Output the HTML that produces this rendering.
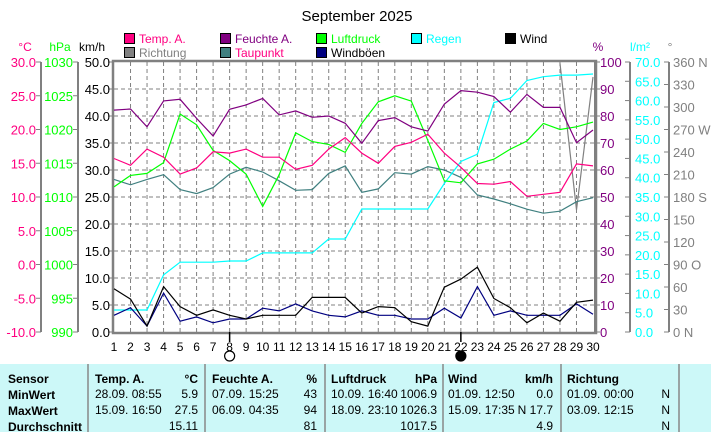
<!DOCTYPE html>
<html><head><meta charset="utf-8"><style>
body{margin:0;background:#fff;width:711px;height:432px;overflow:hidden;font-family:"Liberation Sans",sans-serif}
svg{display:block}
text{font-family:"Liberation Sans",sans-serif}
</style></head><body>
<svg id="c" width="711" height="432" viewBox="0 0 711 432">
<text x="357" y="21" font-size="15" text-anchor="middle">September 2025</text>
<g id="legend"></g>
<g id="axes"></g>
<g id="series"></g>
<g id="table"></g>
</svg>
<script>
const days=[1,2,3,4,5,6,7,8,9,10,11,12,13,14,15,16,17,18,19,20,21,22,23,24,25,26,27,28,29,30];
const tempA=[15.7,14.7,17.1,15.9,13.4,14.3,16.7,16.5,17.1,15.9,15.9,14.1,14.7,17.1,18.8,16.5,15.0,17.5,18.1,19.3,16.5,14.4,12.0,11.9,12.3,10.1,10.4,10.7,14.9,14.6];
const feuchte=[82.2,82.6,76.0,85.6,86.2,79.1,72.6,82.5,84.1,86.5,80.4,81.9,79.5,80.0,77.3,69.9,78.3,79.4,76.0,74.4,84.4,89.4,88.8,87.2,81.4,88.0,83.2,83.2,70.1,74.8];
const luftdruck=[1011.5,1013.2,1013.5,1015.1,1022.3,1020.7,1016.9,1015.4,1013.4,1008.6,1013.3,1019.5,1018.2,1017.8,1016.6,1020.9,1024.1,1025.0,1024.2,1018.4,1012.4,1012.1,1014.9,1015.6,1017.1,1018.3,1020.9,1020.0,1020.4,1021.1];
const taupunkt=[12.6,11.8,12.6,13.3,11.1,10.5,11.4,13.4,14.4,13.7,12.4,11.0,11.1,13.5,14.6,10.7,11.2,13.6,13.4,14.5,14.0,12.9,10.3,9.7,9.0,8.2,7.6,7.9,9.3,9.9];
const regen=[5.7,5.7,5.7,14.8,18.1,18.1,18.1,18.4,18.4,20.5,20.5,20.5,20.5,24.1,24.1,31.9,31.9,31.9,31.9,31.9,38.5,44.2,46.1,59.5,60.6,65.2,66.2,66.6,66.6,66.9];
const wind=[8.0,6.1,1.1,8.4,4.7,3.1,4.1,3.1,2.4,3.1,3.1,3.1,6.4,6.4,6.4,3.5,4.7,4.5,1.9,1.1,8.3,9.8,12.0,6.2,4.5,1.7,3.5,2.0,5.5,5.9];
const windboeen=[3.1,4.5,1.1,7.2,2.0,2.8,1.7,2.4,2.4,4.4,3.9,5.2,3.9,3.1,2.8,3.9,3.1,3.1,2.4,2.4,4.4,2.6,8.4,3.1,3.9,3.1,3.1,3.1,5.2,3.3];
const richtung=[null,null,null,null,null,null,null,null,null,null,null,null,null,null,null,null,null,null,null,null,null,null,null,null,null,null,null,358,163,340];
const tickC=[30,25,20,15,10,5,0,-5,-10];
const tickHpa=[1030,1025,1020,1015,1010,1005,1000,995,990];
const tickKmh=[50,45,40,35,30,25,20,15,10,5,0];
const tickPct=[100,90,80,70,60,50,40,30,20,10,0];
const tickRain=[70,65,60,55,50,45,40,35,30,25,20,15,10,5,0];
const tickDir=["360 N","330","300","270 W","240","210","180 S","150","120","90 O","60","30","0 N"];

const NS="http://www.w3.org/2000/svg";
const X0=114,X1=593,Y0=62,Y1=332,H=Y1-Y0;
const xS=d=>X0+(d-1)*(X1-X0)/29;
const yKmh=v=>Y1-v/50*H, yC=t=>Y1-(t+10)/40*H, yHpa=p=>Y1-(p-990)/40*H, yPct=h=>Y1-h/100*H, yRain=r=>Y1-r/70*H, yDir=d=>Y1-d/360*H;
function el(tag,attrs,parent,txt){const e=document.createElementNS(NS,tag);for(const k in attrs)e.setAttribute(k,attrs[k]);if(txt!==undefined)e.textContent=txt;parent.appendChild(e);return e;}
const ax=document.getElementById('axes'),sr=document.getElementById('series'),lg=document.getElementById('legend'),tb=document.getElementById('table');

// grid
for(let i=1;i<10;i++){const y=Y0+i*H/10;const g=el('line',{x1:X0,x2:X1+2,y1:y,y2:y,stroke:'#808080','stroke-dasharray':'4,3'},ax);}
days.forEach(d=>{if(d>1&&d<30){const x=xS(d);const g=el('line',{x1:x,x2:x,y1:Y0,y2:Y1,stroke:'#808080','stroke-dasharray':'4,3'},ax);}});
const fr=el('rect',{x:X0-1,y:Y0-1,width:X1-X0+4,height:H+2,fill:'none',stroke:'#808080','stroke-width':2.5},ax);


function axis(ticks,lineX,labelX,anchor,color,tickDir,name){
  const l=el('line',{x1:lineX,x2:lineX,y1:Y0,y2:Y1,stroke:'#808080','stroke-width':2},ax);
  
  ticks.forEach((t,i)=>{const y=Y0+i*H/(ticks.length-1);
    el('line',{x1:lineX,x2:lineX+tickDir*5,y1:y,y2:y,stroke:'#808080','stroke-width':1},ax);
    const tx=el('text',{x:labelX,y:y+5,'font-size':13,fill:color,'text-anchor':anchor},ax,typeof t==='number'?(name==='hpa'||name==='pct'?String(t):t.toFixed(1)):t);
    });
}
axis(tickC,41,36,'end','#ff0080',-1,'temp');
axis(tickHpa,78,73,'end','#00ff00',-1,'hpa');
axis(tickKmh,X0-1,110,'end','#000',-1,'kmh');
axis(tickPct,X1+2,600,'start','#800080',1,'pct');
axis(tickRain,630,635,'start','#00ffff',-1,'rain');
axis(tickDir,669,673,'start','#808080',-1,'dir');
[['°C',25,'#ff0080','unit-celsius'],['hPa',60,'#00ff00','unit-hpa'],['km/h',92,'#000','unit-kmh'],['%',598,'#800080','unit-percent'],['l/m²',640,'#00ffff','unit-rain'],['°',670,'#808080','unit-degree']].forEach(u=>{
  const t=el('text',{x:u[1],y:51,'font-size':12,fill:u[2],'text-anchor':'middle'},ax,u[0]);});
days.forEach(d=>{const t=el('text',{x:xS(d),y:351,'font-size':12,'text-anchor':'middle'},ax,String(d));});
// moon markers
[[8,false],[22,true]].forEach(m=>{const x=xS(m[0]);el('line',{x1:x,x2:x,y1:Y1,y2:Y1+10,stroke:'#000','stroke-width':1.5},ax);
  const c=el('circle',{cx:x,cy:356,r:5,fill:m[1]?'#000':'#fff',stroke:'#000','stroke-width':1.2},ax);});

function line(vals,yf,color,name){let pts=[];let segs=[];vals.forEach((v,i)=>{if(v===null){if(pts.length)segs.push(pts);pts=[];}else pts.push(xS(days[i]).toFixed(1)+','+yf(v).toFixed(1));});if(pts.length)segs.push(pts);
  segs.forEach(s=>{const p=el('polyline',{points:s.join(' '),fill:'none',stroke:color,'stroke-width':1.2},sr);});}
line(richtung,yDir,'#808080','richtung-line');
line(taupunkt,yC,'#408080','taupunkt-line');
line(regen,yRain,'#00ffff','regen-line');
line(luftdruck,yHpa,'#00ff00','luftdruck-line');
line(feuchte,yPct,'#800080','feuchte-line');
line(tempA,yC,'#ff0080','temp-line');
line(windboeen,yKmh,'#000080','windboeen-line');
line(wind,yKmh,'#000','wind-line');

// legend
[['Temp. A.','#ff0080','#ff0080',124,33],['Feuchte A.','#800080','#800080',220,33],['Luftdruck','#00ff00','#00ff00',316,33],['Regen','#00ffff','#00ffff',411,33],['Wind','#000','#000',505,33],
 ['Richtung','#808080','#808080',124,47],['Taupunkt','#408080','#ff0080',220,47],['Windböen','#000080','#000',316,47]].forEach(e=>{
  const g=el('g',{},lg);
  el('rect',{x:e[3]+0.5,y:e[4]+0.5,width:10,height:10,fill:e[1],stroke:'#000'},g);
  el('text',{x:e[3]+15,y:e[4]+10,'font-size':12,fill:e[2]},g,e[0]);});

// table
const tr=el('rect',{x:0,y:364,width:711,height:68,fill:'#ccf8f8'},tb);
[88,205,325,443,561,679].forEach(x=>el('line',{x1:x,x2:x,y1:364,y2:432,stroke:'#888','stroke-width':1.5},tb));
const rowsY=[384,400,416,432];
function T(x,y,s,anchor,bold){const t=el('text',{x:x,y:y,'font-size':12,'text-anchor':anchor||'start','font-weight':bold?'bold':'normal'},tb,s);}
['Sensor','MinWert','MaxWert','Durchschnitt'].forEach((s,i)=>T(8,rowsY[i]-1,s,'start',true));
T(95,383,'Temp. A.','start',true);T(198,383,'°C','end',true);
T(212,383,'Feuchte A.','start',true);T(317,383,'%','end',true);
T(331,383,'Luftdruck','start',true);T(437,383,'hPa','end',true);
T(448,383,'Wind','start',true);T(553,383,'km/h','end',true);
T(567,383,'Richtung','start',true);
const tdata=[
 ['28.09.  08:55','5.9','07.09.  15:25','43','10.09.  16:40','1006.9','01.09.  12:50','0.0','01.09.  00:00','N'],
 ['15.09.  16:50','27.5','06.09.  04:35','94','18.09.  23:10','1026.3','15.09.  17:35','N 17.7','03.09.  12:15','N'],
 ['','15.11','','81','','1017.5','','4.9','','N']];
tdata.forEach((r,i)=>{const y=rowsY[i+1]-2;
 T(95,y,r[0]);T(198,y,r[1],'end');T(212,y,r[2]);T(317,y,r[3],'end');T(331,y,r[4]);T(437,y,r[5],'end');T(448,y,r[6]);T(553,y,r[7],'end');T(567,y,r[8]);T(670,y,r[9],'end');});
</script>
</body></html>
